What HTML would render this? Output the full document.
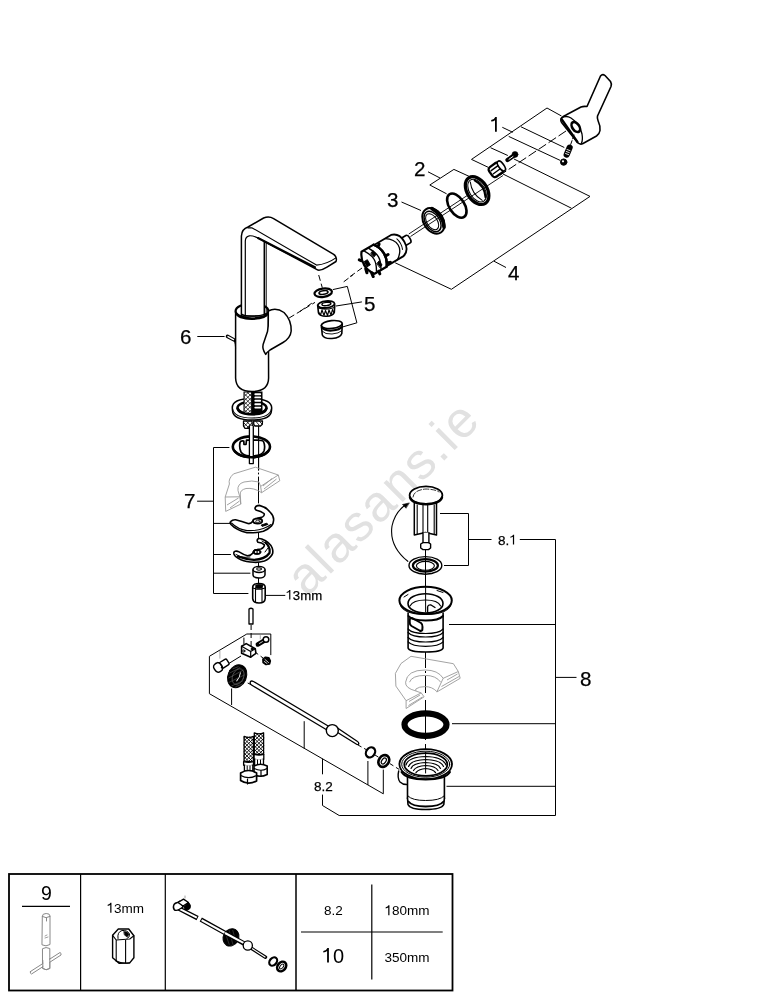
<!DOCTYPE html>
<html><head><meta charset="utf-8">
<style>
html,body{margin:0;padding:0;background:#fff;}
body{width:769px;height:1000px;overflow:hidden;}
svg{display:block;will-change:transform;}
text{font-family:"Liberation Sans",sans-serif;fill:#000;}
</style></head>
<body>
<svg width="769" height="1000" viewBox="0 0 769 1000">
<g id="watermark">
<text x="0" y="0" font-size="51" letter-spacing="1.9" style="fill:#e1e1e1" transform="translate(307.2,597.5) rotate(-45)">alasans.ie</text>
</g>

<g id="brackets" fill="none" stroke="#000" stroke-width="1">
<!-- bracket 1 -->
<path d="M547,108 L471.5,159.4 L488.2,167.3"/>
<path d="M547,108 L561.5,116"/>
<path d="M521,126.8 L564.3,147.5"/>
<path d="M508.7,136.4 L560.2,160.4"/>
<path d="M490.5,147.7 L507.8,155.5"/>
<path d="M502.3,127.3 L512.8,132.3"/>
<!-- lines to bracket 4 -->
<path d="M514,159 L590,196.4 L451.4,289.3 L395.2,262.8"/>
<path d="M503,174 L571.4,208.2"/>
<path d="M494,261.2 L506,267.5"/>
<!-- bracket 2 -->
<path d="M469.2,176.4 L453.9,169.4 L429.8,185 L446.6,193.8"/>
<path d="M428,171.8 L440,178"/>
<!-- leader 3 -->
<path d="M401.5,202 L421,210.5"/>
<!-- bracket 5 -->
<path d="M332.8,289.6 L347.3,286.4 L356.9,322.8 L342.8,326.9"/>
<path d="M336,306 L361.9,301.9"/>
<!-- leader 6 -->
<path d="M197.3,336.5 L224.6,336.5"/>
</g>
<g id="centerlines" fill="none" stroke="#000" stroke-width="1" stroke-dasharray="6 3">
<path stroke-dasharray="9 3" d="M576,124.3 L500,175.2"/>
<path d="M350,276.6 L362,268"/>
<path d="M318.7,275 L322.3,287.7"/>
<path d="M300,311.4 L311.8,303.2"/>
<path d="M289.1,318 L315,302.4"/>
<path d="M343.7,281.8 L352.8,275"/>
</g>
<g id="shaft" fill="none" stroke="#000" stroke-width="0.9">
<path d="M410.5,236.5 L503,175.5"/>
<path d="M408.8,234 L468,195"/>
</g>

<g id="topparts" stroke="#000" fill="#fff" stroke-linejoin="round" stroke-linecap="round">
<!-- handle -->
<path stroke-width="1.6" d="M600.5,76 Q602.5,73.5 605,75.5 L610.5,81.5 Q612,84 611,86.5 L597.5,116 Q597,118.5 598,120.5 Q600.5,126 600,130.5 Q599.5,134 596.5,136 L583,143.5 Q580,145 577.5,142.5 L562,123 Q560,120.5 561.5,118 Q563,116.5 566,115 L581,107 Q583.5,106 587,106.5 Z"/>
<path fill="none" stroke-width="1.3" d="M561.5,118 Q566,115 571,118 Q580,124 582,134 Q583,140 581.5,143"/>
<path fill="none" stroke-width="2.2" d="M561.5,119 L577.5,142"/>
<ellipse cx="575.8" cy="127" rx="3.4" ry="5.6" transform="rotate(-35 575.8 127)" stroke-width="2.6"/>
<path fill="none" stroke-width="1" stroke-dasharray="4 2" d="M574,135 L570.5,145"/>
<!-- spring -->
<path stroke-width="6.2" d="M569.6,147.6 L566.7,154.6"/>
<path stroke="#fff" stroke-width="0.9" d="M567,149.5 L570,150.6 M566.3,151.5 L569.3,152.6 M565.6,153.5 L568.6,154.6"/>
<!-- ball -->
<circle cx="563.7" cy="162.1" r="3.2" fill="#000" stroke-width="1"/>
<circle cx="563" cy="161.3" r="1.1" fill="#fff" stroke="none"/>
<!-- screw -->
<path stroke-width="4.2" d="M514,155.5 L507.5,160"/>
<circle cx="515" cy="154.4" r="3" fill="#000" stroke-width="0.5"/>
<path stroke="#fff" stroke-width="1" d="M513,156.5 L509,159.3"/>
<!-- nut -->
<g transform="translate(496.5,169.5) rotate(-36)">
<rect x="-7" y="-5.8" width="13" height="11.6" rx="3" stroke-width="2.3"/>
<ellipse cx="6" cy="0" rx="2.6" ry="5.8" stroke-width="1.6"/>
<path fill="none" stroke-width="1.4" d="M-5,-2.2 L3.5,-2.2 M-5,1.6 L3.5,1.6"/>
</g>
<!-- ring 2 -->
<g transform="translate(477.1,190.6) rotate(57)" fill="none">
<ellipse cx="0" cy="0" rx="15.2" ry="10" stroke-width="3.2"/>
<ellipse cx="0" cy="0" rx="12.5" ry="7.6" stroke-width="1"/>
<path stroke-width="2" d="M-10,-3.5 Q0,-9 10,-3.5"/>
<path stroke-width="1" d="M-11,1 Q0,6.5 11,1"/>
</g>
<!-- o-ring -->
<ellipse cx="456.8" cy="205.6" rx="13.5" ry="7.6" transform="rotate(57 456.8 205.6)" fill="none" stroke-width="2.6"/>
<!-- ring 3 -->
<g transform="translate(433.4,220.9) rotate(57)" fill="none">
<ellipse cx="0" cy="0" rx="13.8" ry="9.8" stroke-width="2"/>
<path stroke-width="3.6" d="M-11,-5.5 Q0,-11.5 11,-5.5"/>
<ellipse cx="0" cy="1" rx="11.3" ry="7" stroke-width="1.4"/>
<ellipse cx="0" cy="1.5" rx="9" ry="5.2" stroke-width="1"/>
</g>
<!-- cartridge -->
<g transform="translate(366.3,263.8) rotate(-30.5)">
<path stroke-width="1.7" d="M38,-4.3 L48.5,-4.3 Q50.5,-4.3 50.5,0 Q50.5,4.3 48.5,4.3 L38,4.3 Z"/>
<path stroke-width="1.8" d="M4,-12.3 L36,-12.3 Q44,-10 44,0 Q44,10 36,12.3 L4,12.3 Z"/>
<path fill="none" stroke-width="1.3" d="M29,-12.2 Q37,-7 37,0 Q37,7 29,12.2"/>
<path fill="none" stroke-width="1" d="M39,-6 Q41,0 38.5,6"/>
<path stroke-width="2.2" d="M2,-12.8 L16,-12.8 Q20.5,-7 20.5,0 Q20.5,7 16,12.8 L2,12.8 Q-2.5,7 -2.5,0 Q-2.5,-7 2,-12.8 Z"/>
<path fill="none" stroke-width="2.4" d="M16,-12.8 Q20.5,-7 20.5,0 Q20.5,7 16,12.8"/>
<path fill="none" stroke-width="1.4" d="M5,-11.5 Q9,-5 9,0 Q9,5 5,11.5 M10,-12 Q14,-5 14,0 Q14,5 10,12"/>
<path fill="none" stroke-width="3" d="M-3,4 L-4,8 M0,10.5 L-0.5,14.5 M-2.5,-5 L-4,-7 M7,12.8 L6.5,15.5 M19,-9 L21,-10.5 M21,3 L23.5,3 M19,10 L21.5,11"/>
<path fill="#000" stroke-width="0.8" d="M-1,-3 L3,-3 L3,3 L-1,3 Z M9.5,-7 L12.5,-8 L13,-3 L10,-2 Z M9.5,5 L12.5,4 L13,9 L10,10 Z"/>
</g>
</g>

<g id="faucet" stroke="#000" fill="#fff" stroke-linejoin="round" stroke-linecap="round">
<!-- bracket 7 -->
<path fill="none" stroke-width="1" d="M229,447.5 L213.5,447.5 L213.5,593.5 L248,593.5 M213.5,523.4 L230,523.4 M213.5,554.5 L230.5,554.5 M213.5,573.2 L250,573.2 M197.5,501.2 L213.5,501.2 M265.4,595.4 L284.9,595.4"/>
<!-- center line below faucet -->
<path fill="none" stroke-width="1" d="M258.5,458 L258.5,470 M258.5,473 L258.5,474 M258.5,477 L258.5,503 M258.5,533 L258.5,539 M258.5,562 L258.5,567 M258.5,577 L258.5,584"/>
<!-- body -->
<path stroke-width="1.5" d="M235.6,311 L235.6,378 Q236,391.5 252,391.5 Q268.4,391.5 268.6,378 L268.4,311"/>
<ellipse cx="252" cy="311" rx="16.4" ry="7.5" stroke-width="2.2"/>
<!-- spout -->
<path stroke-width="1.5" d="M241.4,316 V236 Q241.8,229 248,227 L263.6,218 Q269,215.8 273.6,218.6 L333.7,254.3 Q337.5,257 336,261.5 L327,267.2 Q322,270.5 318,270.1 L264.3,241.5 V316 Z"/>
<path fill="none" stroke-width="1.2" d="M245.3,316 V241 Q245.5,236.5 249.3,235.8 Q253,235.5 258,238 L264.3,241.5"/>
<path fill="none" stroke-width="1.1" d="M248,227.9 L252.2,227.9 L316.5,265.1 Q326.6,264.4 335.9,257.9"/>
<path fill="none" stroke-width="2" d="M258,238 L315,267.2"/>
<path fill="none" stroke-width="1" d="M266.2,243 V316"/>
<path fill="none" stroke-width="2.2" d="M236,313 Q238,318.8 252,318.8 Q266,318.8 268,313"/>
<path fill="none" stroke-width="1.1" d="M241.4,314 Q244,316 252,316.2 Q261,316 266,313.5"/>
<path stroke-width="1.5" d="M268.3,311 Q276,307 284,312.5 Q291.5,320 291.2,331 Q290.5,338 283,342.5 L270,350 Q266.5,352.5 265.7,354.4 Q262,349 263.1,344.6 Q266,336 267.5,331.6 Q268.5,326 268.3,320 Z"/>
<!-- pin 6 -->
<path stroke-width="3.6" d="M227.5,336.3 L234.2,340"/>
<path stroke="#fff" stroke-width="1.4" d="M228,336.6 L233.5,339.6"/>
<path fill="none" stroke-width="1" d="M234.5,341 Q235.5,344 235.6,348"/>
<!-- plate -->
<path stroke-width="1.5" d="M232.3,408 Q232.3,398.6 252,398.6 Q271.7,398.6 271.7,408 L271.5,410.5 Q271,420 252,420 Q233,420 232.5,410.5 Z"/>
<path fill="none" stroke-width="1.1" d="M232.5,408.5 Q234,418 252,418 Q270,418 271.5,408.5"/>
<ellipse cx="252" cy="407.8" rx="14.5" ry="6.3" stroke-width="2.4"/>
<!-- hoses -->
<rect x="243.5" y="391.5" width="19" height="22.5" fill="#000" stroke="none"/>
<rect x="244.6" y="392.5" width="6.5" height="21" fill="#fff" stroke="none"/>
<path fill="none" stroke-width="0.75" d="M244.6,394 L251.1,400.5 M244.6,398 L251.1,404.5 M244.6,402 L251.1,408.5 M244.6,406 L251.1,412.5 M244.6,410 L248,413.4 M247.5,392.5 L251.1,396.1 M251.1,394 L244.6,400.5 M251.1,398 L244.6,404.5 M251.1,402 L244.6,408.5 M251.1,406 L244.6,412.5 M251.1,410 L247.7,413.4 M248.2,392.5 L244.6,396.1"/>
<path fill="none" stroke="#fff" stroke-width="1.9" d="M255.3,394.2 H260.2 M255.3,397.4 H260.2 M255.3,400.8 H260.2 M255.3,404.3 H260.2 M255.3,407.6 H260.2"/>
<path fill="none" stroke-width="2.6" d="M237.6,408.5 Q239,414.3 252,414.3 Q265,414.3 266.4,408.5"/>
<!-- nuts under plate -->
<path stroke-width="1.3" d="M243.5,421 L252,421 L252.3,426 L250.5,428.3 L245,428.3 L243.5,426 Z"/>
<path fill="none" stroke-width="0.8" d="M244,423 L249,428 M246.5,421.5 L251.8,426.5 M251.8,423 L247,428 M249,421.5 L244,426.5"/>
<path stroke-width="1.3" d="M253.7,421 L262.5,421 L262.3,424.3 L260.5,426 L255,426 L253.7,424.3 Z"/>
<path fill="none" stroke-width="0.8" d="M256,421.5 L259,425 M259.5,421.5 L262,424"/>
<!-- rods + horseshoe gasket -->
<ellipse cx="251.4" cy="446.8" rx="18.6" ry="10.4" fill="none" stroke-width="2.6"/>
<path fill="none" stroke-width="1.7" d="M240,442.5 Q239,448 241,452 Q243.5,455.5 249,455.8 M253.5,455.8 Q262,455.5 264,451 Q265.5,446 263.5,441.5 Q262,440 256,440.2 L253.5,440.2 M249.3,440.2 L246.5,440.2 L246,444.5 L244,444.5 L243.8,441 Q240.5,440.5 240,442.5"/>
<path stroke-width="1.3" d="M249.4,426 L249.4,463.6 L253.3,463.6 L253.3,426"/>
<path fill="none" stroke-width="1.1" d="M258.6,426 L258.6,470"/>
<path fill="none" stroke-width="2.6" d="M235,451.5 Q240,457.2 251.4,457.2 Q263,457.2 268,451.5"/>
</g>

<g id="aerator" stroke="#000" fill="#fff" stroke-linejoin="round">
<ellipse cx="323.2" cy="292.7" rx="8.8" ry="4.2" transform="rotate(-8 323.2 292.7)" stroke-width="2.2"/>
<ellipse cx="323.5" cy="292.5" rx="4.5" ry="1.8" transform="rotate(-8 323.5 292.5)" stroke-width="1.6"/>
<path stroke-width="1.6" d="M317.6,304.6 L318.5,313 Q320,316.5 326.5,316.3 Q333,316 334.3,312.5 L334.8,304.4"/>
<ellipse cx="326.2" cy="304.5" rx="8.4" ry="3.4" transform="rotate(-6 326.2 304.5)" stroke-width="1.8"/>
<ellipse cx="326.4" cy="304" rx="4.5" ry="1.6" transform="rotate(-6 326.4 304)" stroke-width="1.4"/>
<path fill="none" stroke-width="1.1" d="M318,308 Q326,310.5 334.5,307.5 M318.3,311.5 L320.5,315 L322,310 L324,315.5 L325.5,310.5 L327.5,315.5 L329,310 L331,315 L332.5,309.5 L334,313"/>
<path stroke-width="1.6" d="M321.3,325 L322.3,335 Q324,339 332,338.5 Q340.5,337.8 341.8,333.5 L342.3,323.5"/>
<ellipse cx="331.8" cy="324.5" rx="10.4" ry="3.9" transform="rotate(-6 331.8 324.5)" stroke-width="1.6"/>
<path fill="none" stroke-width="2.2" d="M321.6,327 Q324,331 332,330.5 Q340,330 342,326.5"/>
<path fill="none" stroke-width="0.9" d="M322,331 Q325,334.5 332,334 Q339,333.5 342,330.5"/>
</g>
<g id="sink7" fill="none" stroke="#999" stroke-width="0.9" stroke-linejoin="round">
<path d="M233.5,473.9 L255.4,467.2 L278.3,475 L279.8,480.7 L261.6,492.7 L260.6,486.4 L278.3,475"/>
<path d="M233.5,473.9 Q228,479 229.4,484 L225.2,497 L225.7,511.4 L240.8,504.1 L239.8,496.8 L225.2,497 M239.8,496.8 L238,490.5 Q237,484 244,482 Q252,480 259,482 L260.6,486.4 M240.8,504.1 L240.3,494 Q240,490 246,488.5 Q254,487.5 261.6,492.7"/>
<path d="M227,505 L238.5,498 M230,508 L239.5,501 M264,489 L276.5,479 M263,486 L272,478.5"/>
</g>
<g id="plates" stroke="#000" fill="#fff" stroke-linejoin="round" stroke-linecap="round">
<path stroke-width="1.6" d="M255.2,507.5 Q256,505.5 259.3,505.4 Q266,507 270.2,512.2 Q274,516 273.6,520.4 Q273.5,523.5 271.5,525.9 Q268,529.5 263.4,531.3 Q256,533.2 247,532.7 Q236,530 231,524.5 Q229.5,522.5 230.7,521.5 Q232.5,519.5 235.5,519.7 Q242,521.5 248,523.5 Q251,524 252.5,521.5 L253.9,520.4 Q258,517.5 262.5,517 Q265,515 264,513.5 Q261,511 256.5,510.2 Q254.5,509.2 255.2,507.5 Z"/>
<path fill="none" stroke-width="1.1" d="M231.5,523 Q238,529.5 247,530.6 Q262,531.2 271,524.5"/>
<ellipse cx="257.6" cy="521" rx="4.6" ry="2.5" stroke-width="1.8"/>
<ellipse cx="257.8" cy="521.3" rx="2.2" ry="1.1" fill="#fff" stroke-width="0.8"/>
<path fill="#000" stroke-width="1" d="M261.5,525 L266.8,523.2 L268,524.4 L262.5,526.3 Z"/>
<path stroke-width="1.6" d="M257.9,538.9 Q259,538 261.8,538.9 Q270,542 272.2,548 Q273.5,552 272.2,554.5 Q269,559.5 264.4,561 Q259,562.6 254,562.3 Q246,561.8 241,559.7 Q235,557 233.9,553.9 Q233.5,551.5 235.2,551.3 Q237,550.8 239.1,551.9 Q244,555 247.5,555.8 Q251,555.5 252.7,553.2 Q254,549.5 257,549.5 L261,549 Q264.5,547 264.4,544.8 Q262,542.5 257.9,542.2 Q256.5,540.5 257.9,538.9 Z"/>
<path fill="none" stroke-width="2.2" d="M238,556.5 Q246,559.5 254,559.8 Q265,559.5 269.5,553 Q270.5,547 265.5,542.5"/>
<path fill="none" stroke-width="1" d="M236,554.5 Q240,557 245,557.5 M262,541 Q268,544 269.5,549 M242,557.5 L250,557 M265,552 L268,548"/>
<ellipse cx="257" cy="552" rx="4" ry="2.6" fill="#000" stroke-width="0.8"/>
<circle cx="255.8" cy="552" r="0.9" fill="#fff" stroke="none"/>
<circle cx="258.4" cy="552" r="0.9" fill="#fff" stroke="none"/>
<!-- small nut -->
<path stroke-width="1.5" d="M253,570 L253,575 Q253.5,578 259,578 Q264.5,578 265,575 L265,570"/>
<ellipse cx="259" cy="569.5" rx="6" ry="3" stroke-width="1.5"/>
<ellipse cx="259" cy="569" rx="2.5" ry="1.2" stroke-width="1"/>
<!-- 13mm nut -->
<path stroke-width="1.6" d="M252.7,587 L252.7,598.5 Q253,603 259,603 Q265,603 265.2,598.5 L265.2,587 Q265,583.5 259,583.5 Q253,583.5 252.7,587 Z"/>
<path fill="none" stroke-width="1.1" d="M255.5,588 L255.5,601.5 M262,588 L262,601.5 M253,588 Q259,590.5 265,588"/>
<path fill="#000" stroke-width="0.8" d="M256,585 Q259,583.8 263,585 L262,588 Q259,589 256,588 Z"/>

</g>

<g id="lowerbrackets" fill="none" stroke="#000" stroke-width="1">
<!-- bracket 8.1 / 8 -->
<path d="M440,513.5 L468.5,513.5 L468.5,565.5 L444,565.5 M468.5,539.5 L491.5,539.5 M519.8,539.5 L555.5,539.5 L555.5,815.5 L339.2,815.5 L322.5,805.5 L322.5,794.6 M555.5,624.5 L449,624.5 M555.5,723.7 L452,723.7 M555.5,786.3 L446.5,786.3 M555.5,677.4 L576.5,677.4"/>
<!-- bracket 8.2 frame -->
<path d="M270.8,655.1 L270.8,634 L246.8,634 L209.4,656.3 L209.4,693.7 L383.3,793.8 L383.3,769.6 M322.5,758.7 L322.5,774.3 M304.2,721.2 L304.2,748.5 M231.6,688.5 L231.6,705 M367.9,761 L367.9,785 M243.9,637.6 L243.9,644"/>
<path stroke="#aaa" d="M219.9,651 L219.9,658.6 M260.3,635.2 L260.3,639.3"/>
</g>
<g id="lowercenter" fill="none" stroke="#000" stroke-width="1">
<path stroke-dasharray="5 3" d="M251.1,625 L251.1,646"/>
<path d="M425.5,549.6 L425.5,557 M425.5,574 L425.5,588 M425.5,651 L425.5,668 M425.5,671 L425.5,673 M425.5,676 L425.5,693 M425.5,700 L425.5,740 M425.5,744 L425.5,749"/>
<path stroke-dasharray="4 3" d="M390,763.7 L399.3,769.5 M358,745 L366,749.5 M375,755 L379,757.5 M247.7,683 L255,686.5 M229,670 L233,673 M255,652 L263,658"/>
<path d="M228,664 L241,656"/>
</g>
<g id="rodassembly" stroke="#000" fill="#fff" stroke-linejoin="round" stroke-linecap="round">
<!-- stub -->
<path stroke-width="1.3" d="M249,624 L249,609 Q251,607.5 253,609 L253,624 Z"/>
<!-- bolt -->
<path stroke-width="4.4" d="M264.5,640.5 L257.8,644.5"/>
<path stroke="#fff" stroke-width="0.8" d="M262.5,641.6 L259.5,643.4"/>
<circle cx="266" cy="639.5" r="2.8" stroke-width="1.5"/>
<!-- block -->
<path stroke-width="1.6" d="M241.6,646.2 L246.2,643.6 L255.3,648.8 L255.9,653.3 L250.7,657.2 L241.6,653.3 Z"/>
<path fill="none" stroke-width="1.2" d="M241.6,646.2 L250.7,651.4 L255.3,648.8 M250.7,651.4 L250.7,657.2"/>
<circle cx="243.8" cy="651" r="1.1" stroke-width="1"/>
<circle cx="252.2" cy="649" r="1.2" fill="#000" stroke-width="0.6"/>
<!-- nut -->
<path stroke-width="1.8" d="M263,659.2 L265.5,657.3 L268.8,658 L270.2,661 L269.5,663.8 L266,664.4 L263.2,662.5 Z" fill="#000"/>
<path stroke="#fff" stroke-width="0.8" fill="none" d="M265,659.5 L268.5,662.5 M264.3,661.5 L267,663.5"/>
<!-- elbow -->
<g transform="translate(221.5,665.3) rotate(-32)">
<rect x="-1" y="-3.3" width="8.5" height="6.6" rx="1.5" stroke-width="1.4"/>
<rect x="-8" y="-4.6" width="8" height="9.2" rx="3.5" stroke-width="1.5"/>
<path fill="none" stroke-width="1.1" d="M-1.5,-4.4 Q1,0 -1.5,4.4"/>
<circle cx="-1" cy="2" r="0.9" fill="#000" stroke="none"/>
</g>
<!-- wheel -->
<g transform="translate(237.2,676.2) rotate(24)">
<ellipse cx="0" cy="0" rx="9.2" ry="11.8" fill="#000" stroke-width="1"/>
<ellipse cx="1" cy="0" rx="5.5" ry="8.2" fill="none" stroke="#555" stroke-width="0.8"/>
<path fill="none" stroke="#fff" stroke-width="0.9" d="M1.5,-4.5 Q3,0 1.5,4.5"/>
<path fill="none" stroke="#666" stroke-width="0.5" d="M-7,-5 L-3,-9 M-8,0 L-1,-9 M-7,5 L3,-8 M-5,9 L6,-4 M-1,11 L7,2 M3,10 L8,5"/>
</g>
<!-- rod -->
<path stroke-width="1.3" d="M250.5,681.5 Q249.5,684 251.5,685 L327,730 L329,726.5 L253.5,681.5 Q251.5,680.5 250.5,681.5 Z"/>
<path stroke-width="1.3" d="M336,731.5 L357,744.5 Q358.5,745 358.8,743.5 Q358.5,742 357.5,741.5 L337.5,728 Z"/>
<circle cx="332.3" cy="730.6" r="6" stroke-width="1.4"/>
<!-- o-ring -->
<ellipse cx="370.5" cy="752.4" rx="4.3" ry="5.3" transform="rotate(35 370.5 752.4)" fill="none" stroke-width="2.3"/>
<!-- washer -->
<ellipse cx="383.8" cy="761" rx="5" ry="6.3" transform="rotate(35 383.8 761)" stroke-width="2.6"/>
<ellipse cx="383.8" cy="761" rx="2" ry="3.3" transform="rotate(35 383.8 761)" stroke-width="1.2"/>
<!-- hoses -->
<g stroke-width="1.3">
<path d="M254.3,732.8 Q259,735 263.6,732.8 L263.6,754.4 L254.3,754.4 Z"/>
<path fill="none" stroke-width="0.9" d="M263.60,733.50 L263.60,733.50 M254.30,733.50 L254.30,733.50 M260.00,733.50 L263.60,737.10 M257.90,733.50 L254.30,737.10 M256.40,733.50 L263.60,740.70 M261.50,733.50 L254.30,740.70 M254.30,735.00 L263.60,744.30 M263.60,735.00 L254.30,744.30 M254.30,738.60 L263.60,747.90 M263.60,738.60 L254.30,747.90 M254.30,742.20 L263.60,751.50 M263.60,742.20 L254.30,751.50 M254.30,745.80 L262.90,754.40 M263.60,745.80 L255.00,754.40 M254.30,749.40 L259.30,754.40 M263.60,749.40 L258.60,754.40 M254.30,753.00 L255.70,754.40 M263.60,753.00 L262.20,754.40"/>
<path d="M254.1,754.4 L254.1,759.2 Q259,760.5 263.8,759.2 L263.8,754.4 Q259,755.8 254.1,754.4 Z"/>
<path d="M254.6,759.2 L254.6,766 L263.5,766 L263.5,759.2"/>
<path fill="none" stroke-width="1" d="M257.5,760 L257.5,765.5 M260.5,760 L260.5,765.5"/>
<path stroke-width="1.6" d="M254,766 L254,774.5 Q260,778 267.2,774.5 L267.2,766 Q260.5,762.5 254,766 Z"/>
<path fill="none" stroke-width="1.2" d="M254.2,768.5 Q261,772 267,768.5 M261,770.5 L261,776.5"/>
<path d="M244.1,736.4 Q249,738.5 253.4,736.4 L253.4,761.6 L244.1,761.6 Z"/>
<path fill="none" stroke-width="0.9" d="M253.40,737.20 L253.40,737.20 M244.10,737.20 L244.10,737.20 M249.80,737.20 L253.40,740.80 M247.70,737.20 L244.10,740.80 M246.20,737.20 L253.40,744.40 M251.30,737.20 L244.10,744.40 M244.10,738.70 L253.40,748.00 M253.40,738.70 L244.10,748.00 M244.10,742.30 L253.40,751.60 M253.40,742.30 L244.10,751.60 M244.10,745.90 L253.40,755.20 M253.40,745.90 L244.10,755.20 M244.10,749.50 L253.40,758.80 M253.40,749.50 L244.10,758.80 M244.10,753.10 L252.60,761.60 M253.40,753.10 L244.90,761.60 M244.10,756.70 L249.00,761.60 M253.40,756.70 L248.50,761.60 M244.10,760.30 L245.40,761.60 M253.40,760.30 L252.10,761.60"/>
<path d="M243.6,761.6 L243.6,765.2 Q248.5,766.6 253.5,765.2 L253.5,761.6 Q248.5,763 243.6,761.6 Z"/>
<path d="M244.4,765.2 L244.4,771 L252.8,771 L252.8,765.2"/>
<path fill="none" stroke-width="1" d="M247.2,766 L247.2,771 M250,766 L250,771"/>
<path stroke-width="1.7" d="M240.6,773 L240.6,780.5 Q248,785.5 256.6,781 L256.6,773 Q248.5,768 240.6,773 Z"/>
<path fill="none" stroke-width="1.2" d="M240.8,775.5 Q248.5,779.8 256.4,775.5 M247.5,779 L247.5,784"/>
</g>
</g>
<g id="sink8" fill="none" stroke="#999" stroke-width="0.9" stroke-linejoin="round">
<path d="M406.1,700.7 L395.9,686.1 L395.4,673.4 L401,663.5 L411,656.3 L453.4,663.7 L458.3,671.5"/>
<path d="M443.2,678.3 L458.3,671.5 L460.2,678.3 L436.8,692 Z"/>
<path d="M406.1,700.7 L421.2,692.9 L424.1,696.8 L406.1,708.5 Z"/>
<path d="M415.8,691 Q405,688 405.6,682.2 Q407,670 425.1,670 Q438,670 443.2,678.3 M409.5,682.2 Q412,675.4 425.1,675.4 Q436,675.4 440.7,682.2 M415.8,689 Q419,686.6 425.1,686.6 Q432,686.6 436.8,691.5 M415.8,689 L415.8,691 L421.2,692.9"/>
<path d="M409,701.5 L420,695 M408.5,705.5 L422.5,697 M447,680 L457.5,674 M441.5,686.5 L459,676.5"/>
</g>
<g id="drain" stroke="#000" fill="#fff" stroke-linejoin="round" stroke-linecap="round">
<!-- plug 8.1 -->
<path stroke-width="1.5" d="M414.3,503 L414.3,535 L425.4,532.6 L436.5,535 L436.5,503"/>
<path fill="none" stroke-width="1.1" d="M417.2,505 L417.2,534.5 M434.2,505 L434.2,534.5 M423,505 L423,532.6 M427.7,505 L427.7,532.6"/>
<path stroke-width="1.4" d="M423,532.6 L423,542.6 L428.9,542.6 L428.9,532.6"/>
<path stroke-width="1.4" d="M420.7,544 L423,542.6 L428.5,542.6 L430.6,544 L430.6,548 L428.5,549.6 L423,549.6 L420.7,548 Z"/>
<ellipse cx="426" cy="495.2" rx="16.4" ry="8.8" stroke-width="1.8"/>
<path fill="none" stroke-width="2.4" d="M410,497.5 Q412,504 426,504.2 Q440,504 442,497.5"/>
<path fill="none" stroke-width="0.8" stroke-dasharray="5 2" d="M413,497 Q414,490 426,489 Q436,489.5 439,492"/>
<!-- arc arrow -->
<path fill="none" stroke-width="1.1" d="M407.8,561.3 Q389,546 392,526 Q395,512 406,504.5"/>
<path fill="#000" stroke-width="0.6" d="M409,503 L402.5,504.5 L405.8,508 Z"/>
<!-- washer 8.1 -->
<ellipse cx="425.4" cy="565.4" rx="16.4" ry="8.8" stroke-width="1.4"/>
<ellipse cx="425.4" cy="565.4" rx="12.5" ry="6.3" stroke-width="2.2"/>
<ellipse cx="425.4" cy="565.8" rx="9" ry="4.4" stroke-width="1.1"/>
<path fill="none" stroke-width="1" d="M425.5,557 L425.5,574"/>
<!-- drain flange -->
<path stroke-width="1.6" d="M408.1,613 L408.1,648 Q409,652 425.6,652 Q442,652 443.1,648 L443.1,613"/>
<ellipse cx="425.6" cy="600.4" rx="26.2" ry="13.6" stroke-width="2"/>
<path fill="none" stroke-width="1.1" d="M399.7,603 Q402,614.5 425.6,614.5 Q449,614.5 451.6,603"/>
<ellipse cx="425.5" cy="603.4" rx="17.5" ry="9.7" stroke-width="1.6"/>
<path fill="none" stroke-width="1.1" d="M410,606 Q413,600 425.5,600 Q438,600 440.6,606"/>
<path fill="none" stroke-width="1.4" d="M427.6,612.5 L427.6,607 Q428,604.5 431,605 L435,607.5"/>
<path fill="none" stroke-width="1" d="M425.6,586.5 L425.6,612 M404,597 L408,594.5 M437,590.5 L443,592.5"/>
<path fill="none" stroke-width="1.2" d="M408.1,632.5 Q412,637 425.6,637 Q439,637 443.1,632.5 M408.1,637.5 Q412,642 425.6,642 Q439,642 443.1,637.5 M408.1,641.9 Q412,646.3 425.6,646.3 Q439,646.3 443.1,641.9 M408.1,629 Q412,633.5 425.6,633.5 Q439,633.5 443.1,629"/>
<path stroke-width="2" d="M409.8,619 Q411,617.5 413,618.5 L421,623 Q422.8,624.5 422.5,627 L422.3,630 Q421.5,631.5 419.5,630.5 L411.5,626 Q409.6,624.8 409.7,622 Z"/>
<path fill="none" stroke-width="2" d="M408.5,616 Q412,620.5 425.6,620.5 Q439,620.5 443,616"/>
<!-- gasket -->
<ellipse cx="425.5" cy="724.6" rx="21" ry="11.2" fill="none" stroke-width="6.2"/>
<!-- drain body -->
<path stroke-width="1.4" d="M398.7,771 Q397,778 400,782 Q403,785 408,784.5 L408,778"/>
<path stroke-width="1.6" d="M407.5,776 L407.5,798.5 Q408,803 425.6,803 Q443.5,803 444.4,798.5 L444.4,776"/>
<path stroke-width="1.6" d="M407.5,798 L408,804.5 Q410,809.5 425.6,809.5 Q441.5,809.5 443.8,804.5 L444.4,798"/>
<path fill="none" stroke-width="1.8" d="M408.5,801.5 Q412,806.5 425.6,806.5 Q440,806.5 443.5,801.5"/>
<path fill="none" stroke-width="1" d="M408,796 Q412,800.5 425.6,800.5 Q440,800.5 444,796"/>
<ellipse cx="425.7" cy="764.2" rx="26.3" ry="15" stroke-width="1.8"/>
<ellipse cx="425.7" cy="764.2" rx="24" ry="13" fill="none" stroke-width="1"/>
<ellipse cx="425.8" cy="764.5" rx="21.5" ry="11.3" stroke-width="1.8"/>
<path fill="none" stroke-width="1.2" d="M406,765 Q408,757 425.8,756.5 Q443,757 446,765 M408.5,766.5 Q411,760 425.8,759.5 Q441,760 443.5,766.5 M411,768.5 Q413,763 425.8,762.5 Q438,763 440.5,768.5 M413.5,770.5 Q416,766 425.8,765.5 Q435.5,766 438,770.5 M416,772.5 Q419,769 425.8,768.5 Q432.5,769 435.5,772.5"/>
<path fill="none" stroke-width="1" d="M425.6,752 L425.6,773"/>
<path fill="none" stroke-width="2" d="M401.5,772 Q406,779.5 425.7,779.5 Q445.5,779.5 450,772"/>
</g>
<g id="labels" font-size="20.6" style="stroke:#000;stroke-width:0.25">
<path fill="#000" stroke="none" d="M495.00,131.70 L496.80,131.70 L496.80,117.10 L495.30,117.10 Q494.50,119.60 491.20,120.10 L491.20,121.60 Q493.60,121.40 495.00,120.30 Z"/>
<text x="414" y="176">2</text>
<text x="387" y="207">3</text>
<text x="508" y="280">4</text>
<text x="364" y="311">5</text>
<text x="180" y="344">6</text>
<text x="184" y="508">7</text>
<text x="580" y="686">8</text>
<text x="498" y="544.5" font-size="13.5">8.</text><path fill="#000" stroke="none" d="M512.90,544.50 L514.12,544.50 L514.12,534.64 L513.11,534.64 Q512.57,536.33 510.34,536.67 L510.34,537.68 Q511.96,537.55 512.90,536.80 Z"/>
<text x="314" y="791" font-size="13.5">8.2</text>
<path fill="#000" stroke="none" d="M289.17,599.60 L290.35,599.60 L290.35,589.96 L289.36,589.96 Q288.84,591.61 286.66,591.94 L286.66,592.93 Q288.24,592.80 289.17,592.08 Z"/><text x="292.84" y="599.6" font-size="13.2">3mm</text>
</g>
<g id="table" fill="none" stroke="#000">
<rect x="9" y="874" width="443.5" height="116.5" stroke-width="1.8"/>
<line x1="80.6" y1="874" x2="80.6" y2="990.5" stroke-width="1.2"/>
<line x1="165.3" y1="874" x2="165.3" y2="990.5" stroke-width="1.2"/>
<line x1="296" y1="874" x2="296" y2="990.5" stroke-width="1.5"/>
<line x1="371.8" y1="884.5" x2="371.8" y2="979.6" stroke-width="1.2"/>
<line x1="301" y1="932" x2="442.7" y2="932" stroke-width="1.2"/>
<line x1="22" y1="906.3" x2="70" y2="906.3" stroke-width="1.2"/>
</g>

<g id="tableicons" stroke-linejoin="round" stroke-linecap="round">
<!-- tool 9 -->
<g stroke="#888" fill="#fff" stroke-width="1">
<path d="M42.3,916 Q42.3,913.5 46.2,913.5 Q50,913.5 50,916 L50,944.5 Q46,947 42.3,945 Z"/>
<path fill="none" d="M42.3,916.5 Q46,919 50,916.5 M46.5,918 L46.5,921"/>
<path d="M42.8,948.5 Q46,946.5 49.8,948.5 L49.8,968.5 Q46,971 42.8,968.5 Z"/>
<path d="M30.5,971.5 L60,952.5 Q61.5,953 61,955 L31.5,974 Q29.5,973.5 30.5,971.5 Z"/>
<path fill="#fff" stroke="none" d="M43.3,961 L49.3,957 L49.3,968 L43.3,968 Z"/>
<path fill="none" d="M42.8,960.5 L42.8,968.5 Q46,971 49.8,968.5 L49.8,958"/>
<path fill="none" stroke-width="0.8" d="M45,936 L47,935 M45,938 L48,937"/>
</g>
<!-- 13mm nut icon -->
<g stroke="#000" fill="#fff" stroke-width="1.4">
<path d="M112.6,935.3 L118.3,929 L128.7,929 L133.9,935.8 L133.9,957.7 L129.7,962.9 L119.3,963.4 L112.6,957.7 Z"/>
<path fill="none" stroke-width="1.1" d="M112.6,935.3 L116.2,940 L129.7,939 L133.9,935.8 M116.2,940 L116.2,961 M125.6,939.5 L125.6,962.5 M116,961 Q122,964 129.7,962.9"/>
<path fill="none" stroke-width="1" d="M118,938.5 Q117,932 122,930.5 Q127.5,930 129.5,934 Q130,937.5 127,938.5"/>
<path fill="#000" stroke-width="0.6" d="M124,931.5 Q128,931.5 129,934.5 L127,937 L124.5,935 Z"/>
</g>
<!-- rod icon -->
<g stroke="#000" fill="#fff">
<path stroke-width="4.6" stroke-linecap="butt" d="M178.4,908.2 L197.6,918.1 M200.8,919.6 L226,933.5"/>
<path stroke="#fff" stroke-width="2" stroke-linecap="butt" d="M179.5,908.8 L196.8,917.7 M201.6,920.1 L225,933"/>
<g transform="translate(231,937.4) rotate(30)">
<ellipse cx="0" cy="0" rx="7.6" ry="9" fill="#000" stroke-width="1"/>
<path fill="none" stroke="#555" stroke-width="0.5" d="M-5,-5 L5,5 M-6,0 L2,7 M-2,-7 L6,1"/>
</g>
<path stroke-width="4.6" stroke-linecap="butt" d="M226,933.5 L244,943.5"/>
<path stroke="#fff" stroke-width="2" stroke-linecap="butt" d="M225,933 L244,943.2"/>
<path stroke-width="3.4" d="M251,948 L265.5,957.2"/>
<path stroke="#fff" stroke-width="1.2" d="M252,948.6 L265,956.9"/>
<circle cx="247.8" cy="945.5" r="4.6" stroke-width="1.3"/>
<path stroke-width="1.4" d="M174,904.5 Q172.5,908 174.5,910 Q176.5,911 179,909.5 L183,907 L180,901 L177.5,902.5 Q175,903 174,904.5 Z"/>
<path stroke-width="1.4" d="M178,902.5 L183.5,899.2 L188.5,902.5 L183,906 Z"/>
<path fill="#000" stroke-width="1" d="M184,906.5 L188.5,902.5 Q191.5,905 190,908.5 L186.5,910.5 Q184.5,909.5 184,906.5 Z"/>
<path fill="none" stroke="#888" stroke-width="0.8" d="M185,898 L185,896"/>
<ellipse cx="273.2" cy="961.5" rx="3.4" ry="4.6" transform="rotate(40 273.2 961.5)" fill="none" stroke-width="2.2"/>
<ellipse cx="281.7" cy="966.5" rx="4" ry="5.2" transform="rotate(40 281.7 966.5)" stroke-width="2.6"/>
<ellipse cx="281.7" cy="966.5" rx="1.5" ry="2.8" transform="rotate(40 281.7 966.5)" stroke-width="1"/>
</g>
</g>
<g id="tabletext">
<text x="41" y="900" font-size="19.5">9</text>
<path fill="#000" stroke="none" d="M110.24,912.70 L111.46,912.70 L111.46,902.85 L110.44,902.85 Q109.91,904.53 107.68,904.87 L107.68,905.88 Q109.30,905.75 110.24,905.00 Z"/><text x="114.01" y="912.7" font-size="13.5">3mm</text>
<text x="324" y="915.2" font-size="13.5">8.2</text>
<path fill="#000" stroke="none" d="M388.24,915.20 L389.46,915.20 L389.46,905.35 L388.45,905.35 Q387.91,907.03 385.68,907.37 L385.68,908.38 Q387.30,908.25 388.24,907.50 Z"/><text x="392.01" y="915.2" font-size="13.5">80mm</text>
<path fill="#000" stroke="none" d="M327.10,962.50 L328.90,962.50 L328.90,947.90 L327.40,947.90 Q326.60,950.40 323.30,950.90 L323.30,952.40 Q325.70,952.20 327.10,951.10 Z"/><text x="333.1" y="962.5" font-size="20">0</text>
<text x="384.5" y="962" font-size="13.5">350mm</text>
</g>
</svg>
</body></html>
